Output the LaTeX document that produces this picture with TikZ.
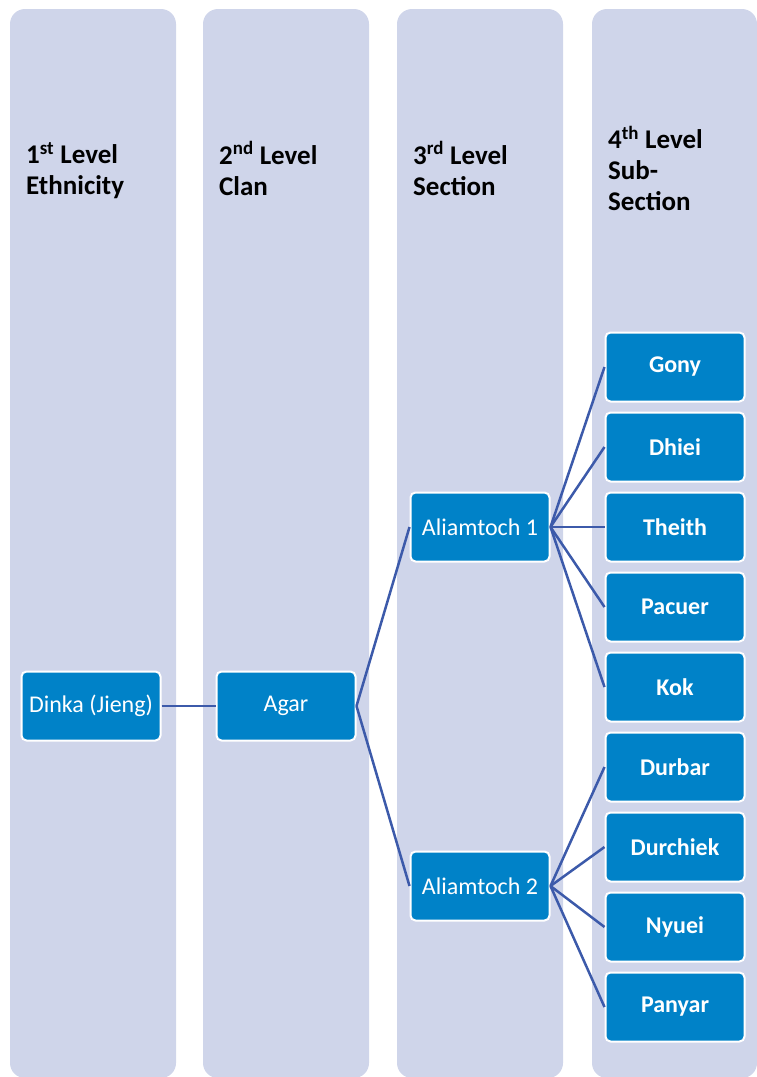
\documentclass[tikz,border=0pt]{standalone}
\usepackage{fontspec}
\setmainfont{Carlito}
\definecolor{colfill}{RGB}{207,213,234}
\definecolor{boxfill}{RGB}{0,130,200}
\definecolor{linkline}{RGB}{60,90,170}

\tikzset{
  levelcol/.style={fill=colfill, rounded corners=15pt},
  levelhead/.style={anchor=west, align=left, inner sep=0pt, font=\fontsize{27}{31}\selectfont\bfseries},
  unit/.style={draw=white, line width=2pt, fill=boxfill, rounded corners=5pt, minimum width=139pt, minimum height=69pt, inner sep=0pt, text=white, font=\fontsize{24}{28}\selectfont},
  subunit/.style={unit, font=\fontsize{24}{28}\selectfont\bfseries},
  link/.style={draw=linkline, line width=2.5pt}
}

\begin{document}
\begin{tikzpicture}[x=1pt, y=-1pt]
            \useasboundingbox (0,0) rectangle (757,1077);
            % level columns
            \fill [levelcol] (10,9) rectangle (176,1078);
            \fill [levelcol] (203,9) rectangle (369,1078);
            \fill [levelcol] (397,9) rectangle (563,1078);
            \fill [levelcol] (592,9) rectangle (757,1078);
            % column headings
            \node [levelhead] (head1) at (26,173) {1\textsuperscript{st} Level\strut\\Ethnicity\strut};
            \node [levelhead] (head2) at (219,173) {2\textsuperscript{nd} Level\strut\\Clan\strut};
            \node [levelhead] (head3) at (413,173) {3\textsuperscript{rd} Level\strut\\Section\strut};
            \node [levelhead] (head4) at (608,173) {4\textsuperscript{th} Level\strut\\Sub-\strut\\Section\strut};
            % ethnicity and clan
            \node [unit] (dinka) at (91,706) {Dinka (Jieng)};
            \node [unit] (agar) at (286,706) {Agar};
            % sections
            \node [unit] (ali1) at (480,527) {Aliamtoch 1};
            \node [unit] (ali2) at (480,886) {Aliamtoch 2};
            % sub-sections
            \node [subunit] (gony) at (675,367) {Gony};
            \node [subunit] (dhiei) at (675,447) {Dhiei};
            \node [subunit] (theith) at (675,527) {Theith};
            \node [subunit] (pacuer) at (675,607) {Pacuer};
            \node [subunit] (kok) at (675,687) {Kok};
            \node [subunit] (durbar) at (675,767) {Durbar};
            \node [subunit] (durchiek) at (675,847) {Durchiek};
            \node [subunit] (nyuei) at (675,927) {Nyuei};
            \node [subunit] (panyar) at (675,1007) {Panyar};
            % connectors
            \draw [link] (dinka.east) -- (agar.west);
            \draw [link] (agar.east) -- (ali1.west);
            \draw [link] (agar.east) -- (ali2.west);
            \foreach \sub in {gony,dhiei,theith,pacuer,kok}
              \draw [link] (ali1.east) -- (\sub.west);
            \foreach \sub in {durbar,durchiek,nyuei,panyar}
              \draw [link] (ali2.east) -- (\sub.west);
\end{tikzpicture}
\end{document}
